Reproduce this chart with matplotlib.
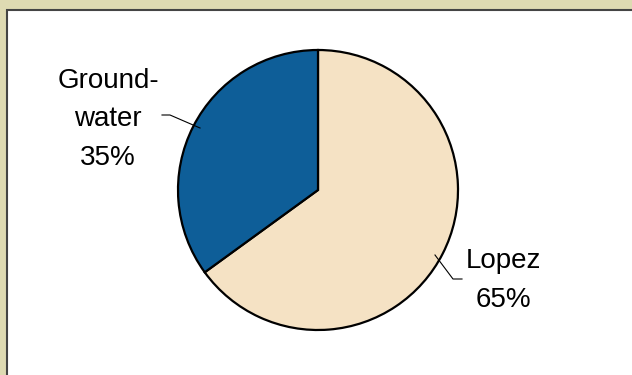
import matplotlib.pyplot as plt
from matplotlib.patches import Rectangle

# Water supply share by source
sources = ['Lopez', 'Ground-\nwater']
shares = [65, 35]
colors = ['#f5e2c4', '#0e5e98']

W, H = 632, 375
fig = plt.figure(figsize=(W / 100, H / 100), dpi=100)
fig.patch.set_facecolor('#dedab2')
ax = fig.add_axes([0, 0, 1, 1])

# white inner panel
ax.add_patch(Rectangle((7, -10), W, H, facecolor='white',
                       edgecolor='#444444', linewidth=1.5, zorder=0))

cx, cy, r = 318, H - 190, 140
ax.pie(shares, colors=colors, startangle=90, counterclock=False,
       center=(cx, cy), radius=r, frame=True,
       wedgeprops=dict(edgecolor='black', linewidth=1.6))
ax.set_xlim(0, W)
ax.set_ylim(0, H)
ax.set_aspect('equal')
ax.axis('off')

font = dict(family='Liberation Sans', fontsize=20, color='black',
            ha='center', linespacing=1.63)
ax.text(108, H - 165, f'{sources[1]}\n{shares[1]}%', va='baseline', **font)
ax.text(503, H - 307, f'{sources[0]}\n{shares[0]}%', va='baseline', **font)

# leader lines
ax.plot([162, 170, 200], [H - 115, H - 115, H - 128], color='black', lw=0.8)
ax.plot([435, 453, 462], [H - 255, H - 279, H - 279], color='black', lw=0.8)

fig.savefig('out.png', dpi=100, facecolor=fig.get_facecolor())
